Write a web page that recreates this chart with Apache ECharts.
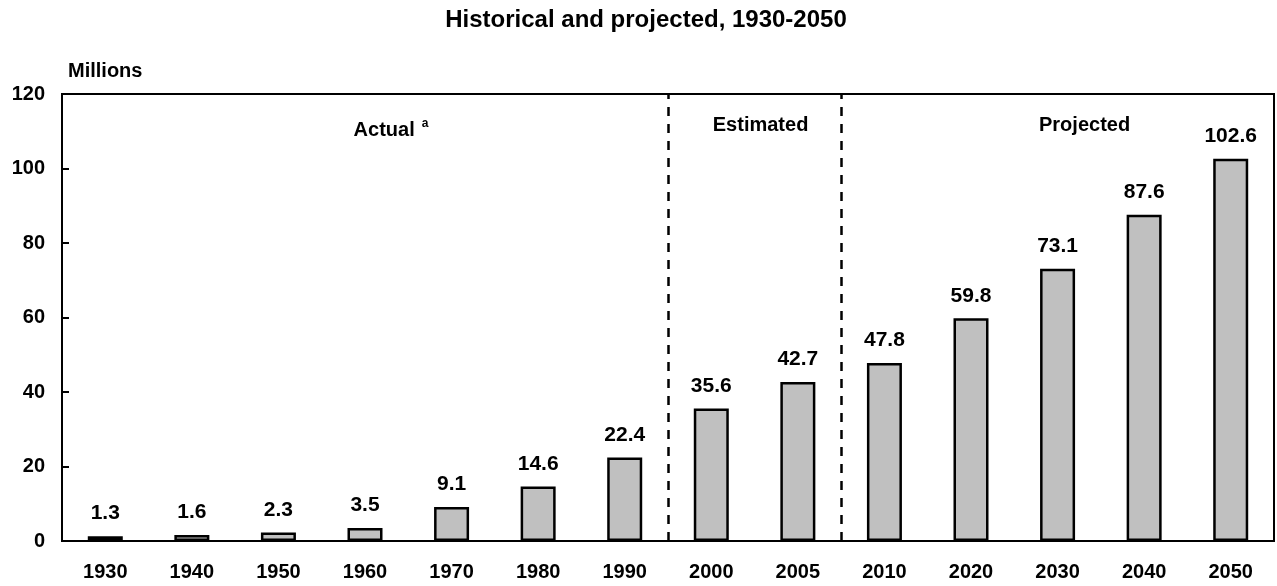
<!DOCTYPE html>
<html>
<head>
<meta charset="utf-8">
<script src="https://cdn.jsdelivr.net/npm/echarts@6/dist/echarts.min.js"></script>
<style>html,body{margin:0;padding:0;background:#fff}#c{width:1277px;height:586px}</style>
</head>
<body>
<div id="c"></div>
<script>
const categories = ['1930','1940','1950','1960','1970','1980','1990','2000','2005','2010','2020','2030','2040','2050'];
const values = [1.3, 1.6, 2.3, 3.5, 9.1, 14.6, 22.4, 35.6, 42.7, 47.8, 59.8, 73.1, 87.6, 102.6];
const yTicks = [0, 20, 40, 60, 80, 100, 120];
const dividers = [7, 9];
const sections = [
  {name: 'Actual', from: 0, to: 7, sup: 'a'},
  {name: 'Estimated', from: 7, to: 9, sup: ''},
  {name: 'Projected', from: 9, to: 14, sup: ''}
];
const sectionOffsets = [[26, 4], [6, 1], [27, 1]];

const FONT = 'Liberation Sans, Arial, Helvetica, sans-serif';
const chart = echarts.init(document.getElementById('c'), null, {renderer: 'canvas'});
chart.setOption({
  animation: false,
  backgroundColor: '#fff',
  title: {
    text: 'Historical and projected, 1930-2050',
    left: 641, top: 3, textAlign: 'center',
    textStyle: {fontFamily: FONT, fontWeight: 'bold', fontSize: 24, color: '#000'}
  },
  grid: {left: 62, right: 3, top: 94, bottom: 45, show: true, borderColor: '#000', borderWidth: 2, containLabel: false},
  xAxis: [{
    type: 'category', data: categories,
    axisLine: {lineStyle: {color: '#000', width: 2}},
    axisTick: {show: false},
    axisLabel: {fontFamily: FONT, fontWeight: 'bold', fontSize: 20, color: '#000', margin: 21}
  }, {
    type: 'value', min: 0, max: 14, show: false, position: 'top'
  }],
  yAxis: {
    type: 'value', min: yTicks[0], max: yTicks[yTicks.length - 1], interval: 20,
    name: 'Millions', nameLocation: 'end', nameGap: 13,
    nameTextStyle: {fontFamily: FONT, fontWeight: 'bold', fontSize: 20, color: '#000', align: 'left', padding: [0, 0, 0, 6]},
    axisLine: {show: true, lineStyle: {color: '#000', width: 2}},
    axisTick: {show: true, inside: true, length: 7, lineStyle: {color: '#000', width: 2}},
    splitLine: {show: false},
    axisLabel: {fontFamily: FONT, fontWeight: 'bold', fontSize: 20, color: '#000', margin: 17}
  },
  series: [{
    type: 'bar', data: values, barWidth: 35,
    itemStyle: {color: '#c0c0c0', borderColor: '#000', borderWidth: 2.5},
    label: {show: true, position: 'top', distance: 12, fontFamily: FONT, fontWeight: 'bold', fontSize: 21, color: '#000'}
  }, {
    type: 'line', xAxisIndex: 1, data: [], silent: true,
    markLine: {
      symbol: 'none', silent: true,
      lineStyle: {color: '#000', type: [9, 8], width: 2.5},
      label: {show: false},
      data: dividers.map(d => ({xAxis: d}))
    },
    markArea: {
      silent: true,
      itemStyle: {color: 'rgba(0,0,0,0)'},
      label: {
        position: 'insideTop', distance: 20,
        fontFamily: FONT, fontWeight: 'bold', fontSize: 20, color: '#000',
        rich: {sup: {fontFamily: FONT, fontWeight: 'bold', fontSize: 12, color: '#000', verticalAlign: 'top', padding: [0, 0, 12, 7]}}
      },
      data: sections.map((s, i) => [
        {xAxis: s.from, name: s.name, label: {offset: sectionOffsets[i], formatter: s.sup ? '{b}{sup|' + s.sup + '}' : '{b}'}},
        {xAxis: s.to}
      ])
    }
  }]
});
</script>
</body>
</html>
